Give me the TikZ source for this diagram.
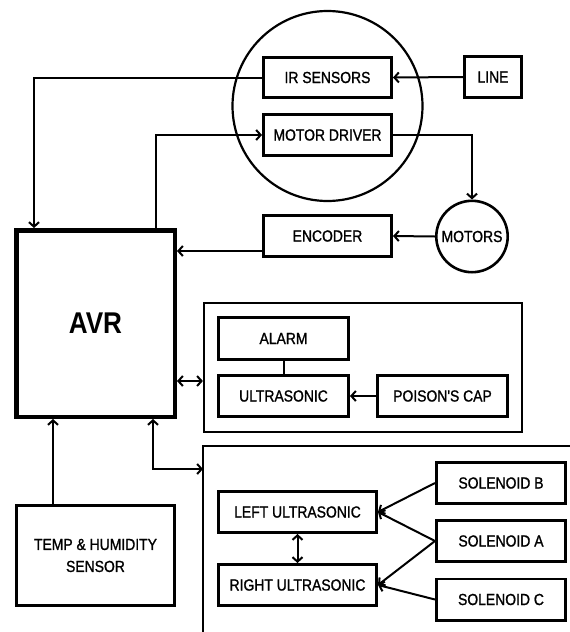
\documentclass[tikz,border=0pt]{standalone}
\usepackage{fontspec}
\setmainfont{Liberation Sans}[FakeStretch=0.87]
\newfontfamily\medfont{Liberation Sans}[FakeStretch=0.87,FakeBold=1.2]
\usetikzlibrary{arrows.meta}
\begin{document}
\begin{tikzpicture}[x=1pt,y=-1pt,
  lbl/.style={font=\medfont\fontsize{16}{22}\selectfont},
  box/.style={draw, line width=2.8pt, rectangle, inner sep=0pt, align=center, lbl},
  conn/.style={line width=2pt},
  tip/.tip={Straight Barb[length=4.5pt,width=10pt]},
  arr/.style={conn,-tip},
  darr/.style={conn,tip-tip}]
\useasboundingbox (0,0) rectangle (570,632);
% top group
\draw[line width=2.2pt] (327.5,106) circle[radius=95];
\node[box, minimum width=128.2, minimum height=40.2] (ir) at (327.5,77.5) {IR SENSORS};
\node[box, minimum width=57.2, minimum height=41.2] (line) at (493,77) {LINE};
\node[box, minimum width=128.2, minimum height=41.2] (md) at (327.5,135) {MOTOR DRIVER};
\node[box, minimum width=128.2, minimum height=41.2] (enc) at (327.5,236) {ENCODER};
\node[draw, circle, line width=2.6pt, inner sep=0pt, minimum size=71.4, lbl] (motors) at (472,236.5) {MOTORS};
% AVR
\node[draw, line width=4.5pt, rectangle, minimum width=158.5, minimum height=186.5,
  font=\fontsize{30}{32}\selectfont\bfseries] (avr) at (95.5,323.5) {AVR};
% group 1
\node[draw, line width=2.2pt, rectangle, minimum width=318, minimum height=129] (g1) at (363,367.5) {};
\node[box, minimum width=130.2, minimum height=42.2] (alarm) at (283.5,338.5) {ALARM};
\node[box, minimum width=130.2, minimum height=41.2] (ultra) at (283.5,396) {ULTRASONIC};
\node[box, minimum width=130.2, minimum height=41.2] (poison) at (442.5,396) {POISON'S CAP};
% group 2
\coordinate (g2) at (203,446);
\coordinate (g2r) at (572,446);
\coordinate (g2b) at (203,634);
\draw[line width=2.2pt] (g2r) -- (g2) -- (g2b);
\node[box, minimum width=158.2, minimum height=41.2] (left) at (297.5,512) {LEFT ULTRASONIC};
\node[box, minimum width=158.2, minimum height=41.2] (right) at (297.5,585) {RIGHT ULTRASONIC};
\node[box, minimum width=129.2, minimum height=41.2] (solB) at (501,483) {SOLENOID B};
\node[box, minimum width=129.2, minimum height=41.2] (solA) at (501,541) {SOLENOID A};
\node[box, minimum width=129.2, minimum height=41.2] (solC) at (501,599.5) {SOLENOID C};
% temp
\node[box, minimum width=158.2, minimum height=100.2] (temp) at (95.5,555.5) {TEMP \& HUMIDITY\\SENSOR};
% connectors
\draw[arr] (line.west) -- (ir.east);
\draw[arr] (ir.west) -| ([xshift=20pt]avr.north west);
\draw[arr] ([xshift=142pt]avr.north west) |- (md.west);
\draw[arr] (md.east) -| (motors.north);
\draw[arr] (motors.west) -- (enc.east);
\draw[arr] ([yshift=-15pt]enc.west) -- ([yshift=-15pt]enc.west -| avr.east);
\draw[darr] ([yshift=-13.5pt]g1.west -| avr.east) -- ([yshift=-13.5pt]g1.west);
\draw[conn] (alarm.south) -- (ultra.north);
\draw[arr] (poison.west) -- (ultra.east);
\draw[darr] ([xshift=139pt]avr.south west) |- ([yshift=-23pt]g2);
\draw[arr] ([xshift=38pt]temp.north west) -- ([xshift=38pt]temp.north west |- avr.south);
\draw[darr] (left.south) -- (right.north);
\draw[arr] (solB.west) -- (left.east);
\draw[arr] (solA.west) -- (left.east);
\draw[arr] (solA.west) -- (right.east);
\draw[arr] (solC.west) -- (right.east);
\end{tikzpicture}
\end{document}
